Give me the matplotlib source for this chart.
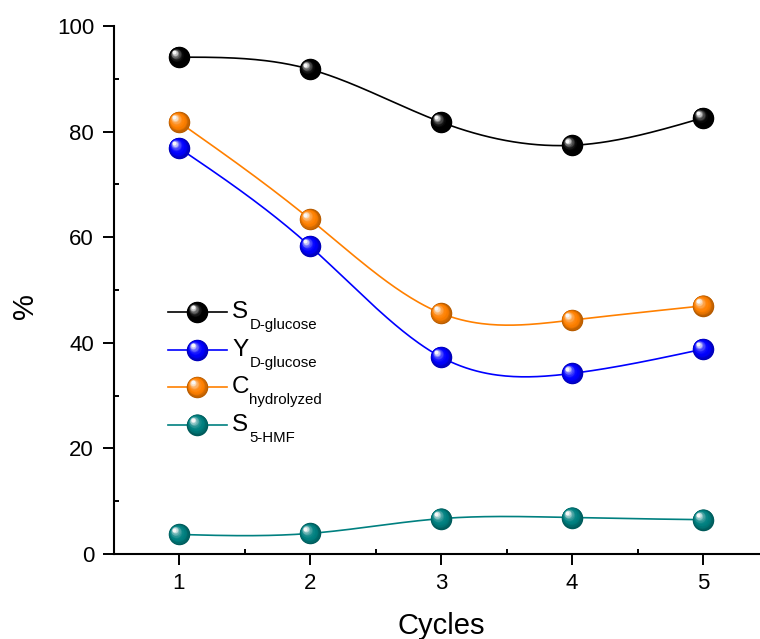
import numpy as np
import matplotlib
matplotlib.use("Agg")
import matplotlib.pyplot as plt
import matplotlib.transforms as mtransforms
from matplotlib.colors import to_rgb

plt.rcParams['font.family'] = ['Liberation Sans', 'DejaVu Sans']

cycles = [1, 2, 3, 4, 5]
s_glucose = [94.1, 91.8, 81.8, 77.4, 82.6]
y_glucose = [76.9, 58.3, 37.3, 34.2, 38.8]
c_hydrolyzed = [81.8, 63.4, 45.6, 44.3, 47.0]
s_hmf = [3.7, 3.9, 6.7, 6.9, 6.5]

names = ['S', 'Y', 'C', 'S']
subs = ['D-glucose', 'D-glucose', 'hydrolyzed', '5-HMF']
colors = ['#000000', '#0000FF', '#FF8000', '#008080']
series = [s_glucose, y_glucose, c_hydrolyzed, s_hmf]


def natural_spline(x, y, num=200):
    # plain natural cubic spline, only used to draw the smooth connection
    x = np.asarray(x, float)
    y = np.asarray(y, float)
    n = len(x)
    h = np.diff(x)
    A = np.zeros((n, n))
    b = np.zeros(n)
    A[0, 0] = 1
    A[-1, -1] = 1
    for i in range(1, n - 1):
        A[i, i - 1] = h[i - 1]
        A[i, i] = 2 * (h[i - 1] + h[i])
        A[i, i + 1] = h[i]
        b[i] = 6 * ((y[i + 1] - y[i]) / h[i] - (y[i] - y[i - 1]) / h[i - 1])
    m = np.linalg.solve(A, b)
    xs = np.linspace(x[0], x[-1], num)
    idx = np.clip(np.searchsorted(x, xs) - 1, 0, n - 2)
    x0, x1 = x[idx], x[idx + 1]
    hh = x1 - x0
    t0 = x1 - xs
    t1 = xs - x0
    ys = (m[idx] * t0 ** 3 / (6 * hh) + m[idx + 1] * t1 ** 3 / (6 * hh)
          + (y[idx] / hh - m[idx] * hh / 6) * t0
          + (y[idx + 1] / hh - m[idx + 1] * hh / 6) * t1)
    return xs, ys


def spheres(ax, fig, x, y, color, ms=15.5, trans=None, z=5):
    # fake 3D ball: stack of circles shifted towards an upper-left highlight
    if trans is None:
        trans = ax.transData
    base = np.array(to_rgb(color))
    dark = base * 0.7
    n = 14
    for i in range(n):
        t = i / (n - 1)
        size = ms * (1 - 0.82 * t)
        off = 0.22 * ms * t
        if t < 0.35:
            c = dark + (base - dark) * (t / 0.35)
        else:
            f = ((t - 0.35) / 0.65) ** 2
            c = base + (np.ones(3) * 0.97 - base) * f
        tr = mtransforms.offset_copy(trans, fig=fig, x=-off, y=off, units='points')
        ax.plot(x, y, 'o', ms=size, mew=0, color=c, transform=tr, zorder=z,
                clip_on=False)


fig = plt.figure(figsize=(7.6, 6.39), dpi=100)
ax = fig.add_axes([113.5 / 760, 85 / 639, 655 / 760, 528 / 639])

for vals, col in zip(series, colors):
    xs, ys = natural_spline(cycles, vals)
    ax.plot(xs, ys, color=col, lw=1.2, zorder=3)
    spheres(ax, fig, cycles, vals, col)

# legend drawn by hand in axes fraction
leg_y = [0.458, 0.386, 0.316, 0.245]
for nm, sb, col, ly in zip(names, subs, colors, leg_y):
    ax.plot([0.083, 0.173], [ly, ly], color=col, lw=1.2, transform=ax.transAxes,
            zorder=3)
    spheres(ax, fig, [0.128], [ly], col, trans=ax.transAxes)
    ax.text(0.181, ly, nm, transform=ax.transAxes, fontsize=17.5, va='center',
            ha='left')
    ax.annotate(sb, xy=(0.181, ly), xycoords='axes fraction', xytext=(12.5, -9.5),
                textcoords='offset points', fontsize=10.8, va='center', ha='left')

ax.set_xlim(0.5, 5.5)
ax.set_ylim(0, 100)
ax.set_xticks(cycles)
ax.set_xticks([0.5, 1.5, 2.5, 3.5, 4.5, 5.5], minor=True)
ax.set_yticks(range(0, 101, 20))
ax.set_yticks(range(10, 100, 20), minor=True)
ax.tick_params(which='major', direction='out', length=8, width=1.4, labelsize=16,
               pad=6)
ax.tick_params(which='minor', direction='in', length=3.5, width=1.4)
ax.spines['top'].set_visible(False)
ax.spines['right'].set_visible(False)
ax.spines['left'].set_linewidth(1.5)
ax.spines['bottom'].set_linewidth(1.5)

ax.set_xlabel('Cycles', fontsize=21)
ax.xaxis.set_label_coords(0.5, -0.11)
ax.set_ylabel('%', fontsize=21)
ax.yaxis.set_label_coords(-0.113, 0.47)

fig.savefig('out.png', dpi=100)
